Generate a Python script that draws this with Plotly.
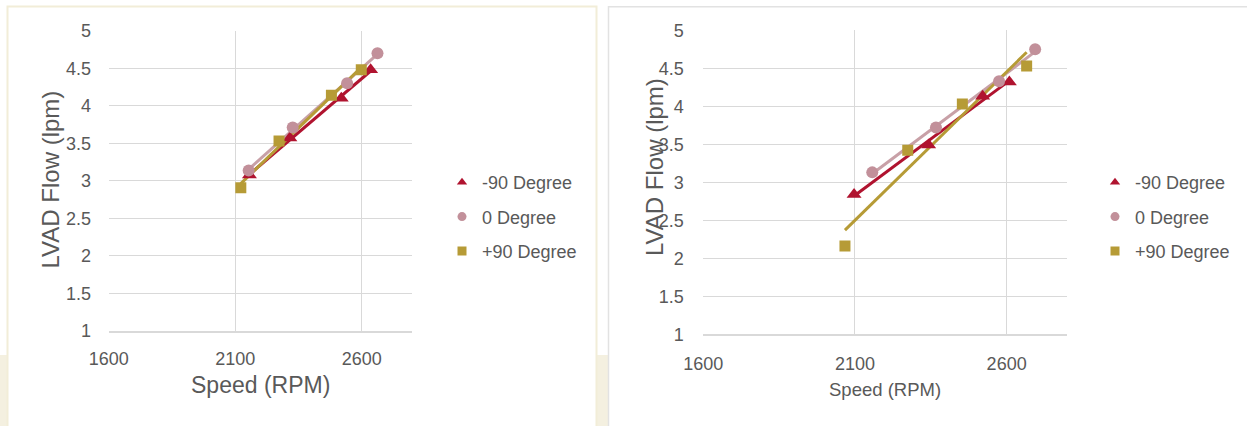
import numpy as np
import plotly.graph_objects as go

W, H = 1247, 426

# ---- data: LVAD flow (lpm) vs pump speed (RPM), two test set-ups ----
series_names = ["-90 Degree", "0 Degree", "+90 Degree"]

left_neg90_speed = [2156, 2316, 2519, 2635]
left_neg90_flow = [3.08, 3.57, 4.10, 4.48]
left_zero_speed = [2153, 2327, 2542, 2662]
left_zero_flow = [3.14, 3.71, 4.30, 4.70]
left_pos90_speed = [2122, 2273, 2480, 2598]
left_pos90_flow = [2.91, 3.53, 4.14, 4.48]

right_neg90_speed = [2097, 2343, 2521, 2609]
right_neg90_flow = [2.84, 3.49, 4.13, 4.32]
right_zero_speed = [2157, 2367, 2575, 2694]
right_zero_flow = [3.13, 3.72, 4.33, 4.75]
right_pos90_speed = [2067, 2274, 2454, 2666]
right_pos90_flow = [2.16, 3.42, 4.03, 4.53]

x_ticks = [1600, 2100, 2600]
y_ticks = [1, 1.5, 2, 2.5, 3, 3.5, 4, 4.5, 5]
y_tick_text = ["1", "1.5", "2", "2.5", "3", "3.5", "4", "4.5", "5"]

# ---- styling ----
FONT = "Liberation Sans"
TXT = "#595959"
GRID = "#D9D9D9"
colors = ["#B0132F", "#C2909A", "#B69B36"]
line_colors = ["#B0132F", "#C8A0A7", "#B69B36"]
symbols = ["triangle-up", "circle", "square"]
sizes = [13, 12, 11]


def fx(x):
    return x / W


def fy(y):
    return 1 - y / H


fig = go.Figure()

panels = [
    ("x", "y", "legend",
     [(left_neg90_speed, left_neg90_flow),
      (left_zero_speed, left_zero_flow),
      (left_pos90_speed, left_pos90_flow)]),
    ("x2", "y2", "legend2",
     [(right_neg90_speed, right_neg90_flow),
      (right_zero_speed, right_zero_flow),
      (right_pos90_speed, right_pos90_flow)]),
]

for xa, ya, leg, groups in panels:
    for i, (sx, fl) in enumerate(groups):
        sx = np.asarray(sx, float)
        fl = np.asarray(fl, float)
        # linear trendline across the measured speed range
        k, b = np.polyfit(sx, fl, 1)
        tx = np.array([sx.min(), sx.max()])
        fig.add_trace(go.Scatter(
            x=tx, y=k * tx + b, mode="lines", xaxis=xa, yaxis=ya,
            line=dict(color=line_colors[i], width=3),
            showlegend=False, hoverinfo="skip"))
    for i, (sx, fl) in enumerate(groups):
        fig.add_trace(go.Scatter(
            x=sx, y=fl, mode="markers", xaxis=xa, yaxis=ya,
            marker=dict(symbol=symbols[i], size=sizes[i], color=colors[i],
                        line=dict(width=0)),
            showlegend=False, name=series_names[i]))
    # legend entries with smaller swatches
    for i in range(3):
        fig.add_trace(go.Scatter(
            x=[None], y=[None], mode="markers", xaxis=xa, yaxis=ya,
            marker=dict(symbol=symbols[i], size=9, color=colors[i]),
            name=series_names[i], legend=leg, legendgroup=f"{leg}{i}"))

axis_common = dict(
    showgrid=True, gridcolor=GRID, gridwidth=1, zeroline=False,
    tickfont=dict(family=FONT, size=18, color=TXT),
    ticks="outside", tickcolor="rgba(0,0,0,0)", automargin=False,
)

# left panel plot area (pixels): x 108.7-412.4, y 30.8-331
# right panel plot area (pixels): x 703.3-1067.3, y 30.2-334.3
fig.update_layout(
    width=W, height=H, autosize=False,
    margin=dict(l=0, r=0, t=0, b=0, pad=0, autoexpand=False),
    paper_bgcolor="white", plot_bgcolor="white",
    font=dict(family=FONT, color=TXT),
    xaxis=dict(domain=[fx(108.7), fx(412.4)], range=[1600, 2800],
               tickvals=x_ticks, anchor="y", ticklen=11,
               showline=True, linecolor=GRID, linewidth=1.5,
               **axis_common),
    yaxis=dict(domain=[fy(331), fy(30.8)], range=[1, 5],
               tickvals=y_ticks, ticktext=y_tick_text, anchor="x", ticklen=13,
               **axis_common),
    xaxis2=dict(domain=[fx(703.3), fx(1067.3)], range=[1600, 2800],
                tickvals=x_ticks, anchor="y2", ticklen=12,
                showline=True, linecolor=GRID, linewidth=1.5,
                **axis_common),
    yaxis2=dict(domain=[fy(334.3), fy(30.2)], range=[1, 5],
                tickvals=y_ticks, ticktext=y_tick_text, anchor="x2", ticklen=15,
                **axis_common),
    legend=dict(x=fx(442), y=fy(164), xanchor="left", yanchor="top",
                font=dict(family=FONT, size=18, color=TXT),
                bgcolor="rgba(0,0,0,0)", tracegroupgap=8, itemclick=False),
    legend2=dict(x=fx(1095), y=fy(164), xanchor="left", yanchor="top",
                 font=dict(family=FONT, size=18, color=TXT),
                 bgcolor="rgba(0,0,0,0)", tracegroupgap=8, itemclick=False),
)

# panel frames and the cream page strip behind them
shapes = [
    dict(type="rect", xref="paper", yref="paper", layer="below",
         x0=0, x1=fx(608), y0=0, y1=fy(355),
         fillcolor="#F4F0E0", line=dict(width=0)),
    dict(type="rect", xref="paper", yref="paper", layer="below",
         x0=fx(7.5), x1=fx(596.5), y0=fy(432), y1=fy(6.5),
         fillcolor="white", line=dict(color="#F2EDD8", width=2)),
    dict(type="rect", xref="paper", yref="paper", layer="below",
         x0=fx(608.5), x1=fx(1252), y0=fy(432), y1=fy(6.7),
         fillcolor="white", line=dict(color="#E2E2E2", width=1.5)),
]
fig.update_layout(shapes=shapes)

# axis titles
titles = [
    dict(text="Speed (RPM)", x=fx(260.5), y=fy(385), size=23, angle=0),
    dict(text="LVAD Flow (lpm)", x=fx(49.5), y=fy(180), size=24, angle=-90),
    dict(text="Speed (RPM)", x=fx(885.3), y=fy(389.3), size=18.5, angle=0),
    dict(text="LVAD Flow (lpm)", x=fx(654), y=fy(167), size=24, angle=-90),
]
for t in titles:
    fig.add_annotation(text=t["text"], x=t["x"], y=t["y"], xref="paper", yref="paper",
                       xanchor="center", yanchor="middle", showarrow=False,
                       textangle=t["angle"],
                       font=dict(family=FONT, size=t["size"], color=TXT))

fig.write_html("out.html")
